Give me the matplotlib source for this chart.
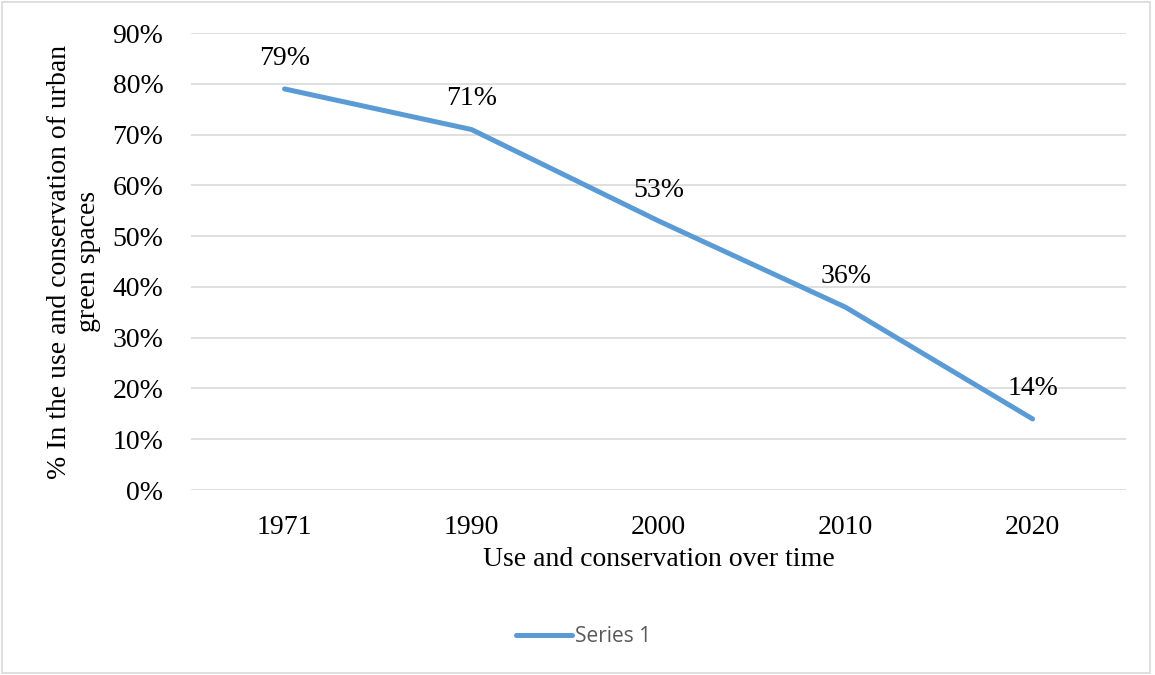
import matplotlib.pyplot as plt
from matplotlib.patches import Rectangle
from matplotlib.ticker import FuncFormatter

years = ["1971", "1990", "2000", "2010", "2020"]
values = [0.79, 0.71, 0.53, 0.36, 0.14]
labels = ["79%", "71%", "53%", "36%", "14%"]

LINE_COLOR = "#5B9BD5"
SERIF = "Liberation Serif"
FS = 20

fig = plt.figure(figsize=(11.55, 6.75), dpi=100)
ax = fig.add_axes([0.1654, 0.274, 0.8096, 0.677])

x = list(range(len(years)))
ax.plot(x, values, color=LINE_COLOR, linewidth=3.6, solid_capstyle="round",
        label="Series 1", zorder=3)

for xi, v, lab in zip(x, values, labels):
    ax.annotate(lab, (xi, v), xytext=(0, 13), textcoords="offset points",
                ha="center", va="bottom", fontsize=FS, family=SERIF)

ax.set_xlim(-0.5, len(years) - 0.5)
ax.set_ylim(0, 0.9)
ax.set_yticks([i / 10 for i in range(10)])
ax.yaxis.set_major_formatter(FuncFormatter(lambda v, p: f"{v * 100:.0f}%"))
ax.set_xticks(x)
ax.set_xticklabels(years)

for lab in ax.get_xticklabels() + ax.get_yticklabels():
    lab.set_family(SERIF)
    lab.set_fontsize(FS)
ax.tick_params(length=0)
ax.tick_params(axis="x", pad=18)
ax.tick_params(axis="y", pad=20)

ax.grid(axis="y", color="#D9D9D9", linewidth=1.2)
ax.set_axisbelow(True)
for s in ax.spines.values():
    s.set_visible(False)

ax.set_xlabel("Use and conservation over time", family=SERIF, fontsize=FS,
              labelpad=5)
ax.set_ylabel("% In the use and conservation of urban\ngreen spaces",
              family=SERIF, fontsize=FS, labelpad=8, linespacing=1.2)

fig.legend(loc="center", bbox_to_anchor=(0.505, 1 - 637 / 675), frameon=False,
           prop={"family": "Open Sans", "size": 15}, labelcolor="#595959",
           handlelength=2.7, handletextpad=0.15)

fig.patches.append(Rectangle((0.002, 0.003), 0.994, 0.994, transform=fig.transFigure,
                             fill=False, edgecolor="#D9D9D9", linewidth=1.2))

fig.savefig("out.png", dpi=100)
